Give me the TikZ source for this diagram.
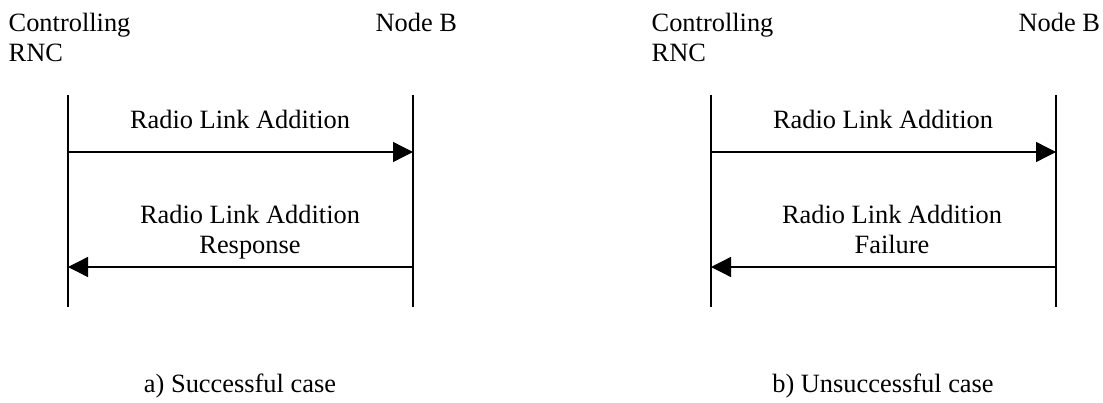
\documentclass[tikz,border=0pt]{standalone}
\usepackage{fontspec}
\setmainfont{Liberation Serif}
\usetikzlibrary{arrows.meta}

\begin{document}
\begin{tikzpicture}[x=0.75pt,y=-0.75pt,line width=1pt,
  every node/.style={font=\fontsize{19.8}{22.5}\selectfont,inner sep=0pt},
  lifeline/.style={line width=1pt},
  msg/.style={-{Triangle[length=15pt,width=15pt]}},
  lbl/.style={align=center,anchor=base}]
  \useasboundingbox (0,0) rectangle (1103,403);
  % a) successful case
  \node[anchor=base west,align=left] (rncA) at (8,62) {Controlling\\RNC};
  \node[anchor=base west] (nodebA) at (375,32) {Node B};
  \coordinate (rncAtop) at (68,95);
  \coordinate (rncAbot) at (68,307);
  \coordinate (nodebAtop) at (413,95);
  \coordinate (nodebAbot) at (413,307);
  \draw[lifeline] (rncAtop) -- (rncAbot);
  \draw[lifeline] (nodebAtop) -- (nodebAbot);
  \coordinate (reqAs) at (68,152);
  \coordinate (reqAe) at (413,152);
  \coordinate (rspAs) at (413,267);
  \coordinate (rspAe) at (68,267);
  \draw[msg] (reqAs) -- (reqAe);
  \draw[msg] (rspAs) -- (rspAe);
  \node[lbl] (reqAlbl) at (240,128) {Radio Link Addition};
  \node[lbl] (rspAlbl) at (250,253) {Radio Link Addition\\Response};
  \node[lbl] (capA) at (240,392) {a) Successful case};
  % b) unsuccessful case
  \node[anchor=base west,align=left] (rncB) at (651,62) {Controlling\\RNC};
  \node[anchor=base west] (nodebB) at (1018,32) {Node B};
  \coordinate (rncBtop) at (711,95);
  \coordinate (rncBbot) at (711,307);
  \coordinate (nodebBtop) at (1056,95);
  \coordinate (nodebBbot) at (1056,307);
  \draw[lifeline] (rncBtop) -- (rncBbot);
  \draw[lifeline] (nodebBtop) -- (nodebBbot);
  \coordinate (reqBs) at (711,152);
  \coordinate (reqBe) at (1056,152);
  \coordinate (rspBs) at (1056,267);
  \coordinate (rspBe) at (711,267);
  \draw[msg] (reqBs) -- (reqBe);
  \draw[msg] (rspBs) -- (rspBe);
  \node[lbl] (reqBlbl) at (883,128) {Radio Link Addition};
  \node[lbl] (rspBlbl) at (892,253) {Radio Link Addition\\Failure};
  \node[lbl] (capB) at (883,392) {b) Unsuccessful case};
\end{tikzpicture}
\end{document}
